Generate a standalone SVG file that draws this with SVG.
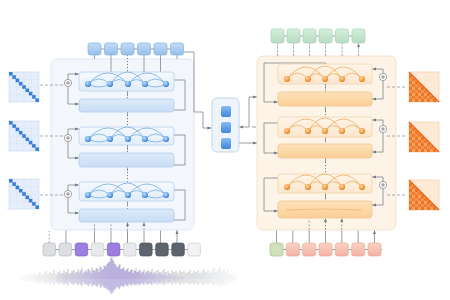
<svg xmlns="http://www.w3.org/2000/svg" width="450" height="300" viewBox="0 0 450 300">
<defs>
<style>
.c{fill:none;stroke:#7f858d;stroke-width:0.8}
.d{fill:none;stroke:#8a9099;stroke-width:0.8;stroke-dasharray:2 1.6}
.dot{fill:none;stroke:#6a7078;stroke-width:0.9;stroke-dasharray:1.2 1.8}
.md{fill:none;stroke:#9ba1a9;stroke-width:0.9;stroke-dasharray:3 2}
.ea{fill:url(#gEA);stroke:#b9d1ec;stroke-width:0.8}
.ef{fill:url(#gEF);stroke:#b2cdec;stroke-width:0.8}
.da{fill:url(#gDA);stroke:#f1d3ad;stroke-width:0.8}
.df{fill:url(#gDF);stroke:#efc896;stroke-width:0.8}
.earc{fill:none;stroke:#6fa8e2;stroke-width:0.75}
.darc{fill:none;stroke:#eea85a;stroke-width:0.75}
.bt{fill:url(#gBT);stroke:#83b1df;stroke-width:0.7}
.gt{fill:url(#gG);stroke:#a6d2b4;stroke-width:0.7}
.st{fill:url(#gS);stroke:#eba895;stroke-width:0.7}
.en{fill:url(#gN)}
.on{fill:url(#gO)}
</style>
<linearGradient id="gEA" x1="0" y1="0" x2="0" y2="1"><stop offset="0" stop-color="#f4f9fe"/><stop offset="1" stop-color="#e2edfa"/></linearGradient>
<linearGradient id="gEF" x1="0" y1="0" x2="0" y2="1"><stop offset="0" stop-color="#dcebfa"/><stop offset="1" stop-color="#c8ddf5"/></linearGradient>
<linearGradient id="gDA" x1="0" y1="0" x2="0" y2="1"><stop offset="0" stop-color="#fff6ea"/><stop offset="1" stop-color="#fce6cc"/></linearGradient>
<linearGradient id="gDF" x1="0" y1="0" x2="0" y2="1"><stop offset="0" stop-color="#fee2b9"/><stop offset="1" stop-color="#f9cf96"/></linearGradient>
<linearGradient id="gBT" x1="0" y1="0" x2="0" y2="1"><stop offset="0" stop-color="#c2dcf6"/><stop offset="1" stop-color="#96bfeb"/></linearGradient>
<linearGradient id="gBS" x1="0" y1="0" x2="0" y2="1"><stop offset="0" stop-color="#86bdf5"/><stop offset="1" stop-color="#3f86e0"/></linearGradient>
<linearGradient id="gG" x1="0" y1="0" x2="0" y2="1"><stop offset="0" stop-color="#d6efdd"/><stop offset="1" stop-color="#b5dcc1"/></linearGradient>
<linearGradient id="gS" x1="0" y1="0" x2="0" y2="1"><stop offset="0" stop-color="#fcd3c7"/><stop offset="1" stop-color="#f4b2a1"/></linearGradient>
<radialGradient id="gN" cx="0.38" cy="0.35" r="0.7"><stop offset="0" stop-color="#bfdcfa"/><stop offset="1" stop-color="#2f7fd8"/></radialGradient>
<radialGradient id="gO" cx="0.38" cy="0.35" r="0.7"><stop offset="0" stop-color="#ffd49a"/><stop offset="1" stop-color="#ea7f1c"/></radialGradient>
<linearGradient id="gW" x1="0" y1="0" x2="1" y2="0"><stop offset="0" stop-color="#9aa0a8" stop-opacity="0.1"/><stop offset="0.2" stop-color="#858b94" stop-opacity="0.8"/><stop offset="0.8" stop-color="#858b94" stop-opacity="0.8"/><stop offset="1" stop-color="#9aa0a8" stop-opacity="0.2"/></linearGradient>
<linearGradient id="gP" x1="0" y1="0" x2="1" y2="0"><stop offset="0" stop-color="#8a6bd8" stop-opacity="0.2"/><stop offset="0.4" stop-color="#7352d4" stop-opacity="0.95"/><stop offset="0.6" stop-color="#7352d4" stop-opacity="0.95"/><stop offset="1" stop-color="#8a6bd8" stop-opacity="0.2"/></linearGradient>
<pattern id="pOr" patternUnits="userSpaceOnUse" width="6" height="6"><rect width="3" height="3" fill="#f4934a"/><rect x="3" width="3" height="3" fill="#f07c30"/><rect y="3" width="3" height="3" fill="#ee7428"/><rect x="3" y="3" width="3" height="3" fill="#f6a45e"/></pattern>
<marker id="ah" viewBox="0 0 6 6" refX="5.5" refY="3" markerUnits="userSpaceOnUse" markerWidth="4" markerHeight="4" orient="auto"><path d="M0,0.6 L6,3 L0,5.4z" fill="#767c84"/></marker>
<g id="plus"><circle r="3.6" fill="#fff" stroke="#7a7f86" stroke-width="0.7"/><path d="M-2 0H2M0 -2V2" stroke="#666" stroke-width="0.7"/></g>
<g id="mL"><rect width="30" height="30" fill="#e5eefa" stroke="#cadcf0" stroke-width="0.7"/><path d="M7.5 0V30M15 0V30M22.5 0V30M0 7.5H30M0 15H30M0 22.5H30" stroke="#d6e4f5" stroke-width="0.5"/><g fill="#3b7ed8"><rect x="0" y="0" width="3.6" height="3.6"/><rect x="3.3" y="3.3" width="3.6" height="3.6"/><rect x="6.6" y="6.6" width="3.6" height="3.6"/><rect x="9.9" y="9.9" width="3.6" height="3.6"/><rect x="13.2" y="13.2" width="3.6" height="3.6"/><rect x="16.5" y="16.5" width="3.6" height="3.6"/><rect x="19.8" y="19.8" width="3.6" height="3.6"/><rect x="23.1" y="23.1" width="3.6" height="3.6"/><rect x="26.4" y="26.4" width="3.6" height="3.6"/></g></g>
<g id="mR"><rect width="30" height="30" fill="#fdead6" stroke="#f3cda6" stroke-width="0.7"/><polygon points="0,0 0,30 30,30" fill="url(#pOr)"/><path d="M0 0L30 30" stroke="#e8621a" stroke-width="1.2"/></g>
<path id="wv" d="M20 0v-2M22 0v-3M24 0v-2M26 0v-4M28 0v-3M30 0v-5M32 0v-3M34 0v-6M36 0v-4M38 0v-5M40 0v-7M42 0v-4M44 0v-6M46 0v-8M48 0v-5M50 0v-7M52 0v-6M54 0v-9M56 0v-5M58 0v-7M60 0v-8M62 0v-6M64 0v-9M66 0v-7M68 0v-10M70 0v-6M72 0v-8M74 0v-9M76 0v-7M78 0v-10M80 0v-8M82 0v-11M84 0v-7M86 0v-9M88 0v-10M90 0v-8M92 0v-12M94 0v-9M96 0v-11M98 0v-10M100 0v-13M102 0v-9M104 0v-14M106 0v-12M108 0v-16M110 0v-18M112 0v-22M114 0v-17M116 0v-14M118 0v-12M120 0v-15M122 0v-10M124 0v-12M126 0v-9M128 0v-11M130 0v-8M132 0v-10M134 0v-9M136 0v-11M138 0v-7M140 0v-9M142 0v-8M144 0v-10M146 0v-7M148 0v-9M150 0v-8M152 0v-10M154 0v-7M156 0v-8M158 0v-9M160 0v-7M162 0v-8M164 0v-10M166 0v-7M168 0v-8M170 0v-6M172 0v-9M174 0v-7M176 0v-8M178 0v-6M180 0v-9M182 0v-7M184 0v-8M186 0v-6M188 0v-7M190 0v-9M192 0v-6M194 0v-8M196 0v-7M198 0v-9M200 0v-6M202 0v-8M204 0v-10M206 0v-7M208 0v-9M210 0v-6M212 0v-8M214 0v-11M216 0v-7M218 0v-9M220 0v-12M222 0v-8M224 0v-10M226 0v-7M228 0v-9M230 0v-5M232 0v-6M234 0v-3M236 0v-4"/>
<path id="wp" d="M57 0v-3M59 0v-5M61 0v-4M63 0v-6M65 0v-5M67 0v-7M69 0v-4M71 0v-6M73 0v-8M75 0v-5M77 0v-7M79 0v-6M81 0v-9M83 0v-5M85 0v-8M87 0v-7M89 0v-10M91 0v-6M93 0v-9M95 0v-8M97 0v-11M99 0v-7M101 0v-12M103 0v-10M105 0v-13M107 0v-15M109 0v-17M111 0v-21M113 0v-19M115 0v-15M117 0v-12M119 0v-14M121 0v-10M123 0v-11M125 0v-8M127 0v-10M129 0v-7M131 0v-9M133 0v-6M135 0v-8M137 0v-7M139 0v-9M141 0v-6M143 0v-7M145 0v-5M147 0v-8M149 0v-6M151 0v-7M153 0v-5M155 0v-6M157 0v-4M159 0v-6M161 0v-5M163 0v-4M165 0v-6M167 0v-3M169 0v-5M171 0v-4M173 0v-3M175 0v-4M177 0v-3M179 0v-2M181 0v-3M183 0v-2"/>
</defs>
<rect width="450" height="300" fill="#ffffff"/>

<g id="encoder-panel"><rect x="51" y="59" width="143" height="171" rx="6" fill="#f3f7fc" stroke="#dde7f3" stroke-width="0.9"/></g>
<g id="decoder-panel"><rect x="257" y="56" width="139" height="174" rx="6" fill="#fdf3e7" stroke="#f5e0c6" stroke-width="0.9"/></g>

<g id="connectors">
<path class="c" d="M94.5 55V59M177 55V59M111 55V72M144 55V72M160.5 55V72"/>
<path class="c" marker-end="url(#ah)" d="M184 52H194V112H203V128H211"/>
<path class="dot" d="M127.5 55V243"/>
<path class="c" marker-end="url(#ah)" d="M68 79.4V74H78.6"/><path class="c" marker-end="url(#ah)" d="M68 86.6V104H78.6"/>
<path class="c" d="M174 80H185V110H174"/>
<path class="c" marker-end="url(#ah)" d="M68 134.4V129H78.6"/><path class="c" marker-end="url(#ah)" d="M68 141.6V158H78.6"/>
<path class="c" d="M174 135H185V165H174"/>
<path class="c" marker-end="url(#ah)" d="M68 190.4V185H78.6"/><path class="c" marker-end="url(#ah)" d="M68 197.6V213H78.6"/>
<path class="c" d="M174 190H185V220H174"/>
<path class="md" d="M40 85H64M40 136H64M40 195H64"/>
<path class="c" marker-end="url(#ah)" d="M127.5 96V91.5M127.5 116V112.5M127.5 150V145.5M127.5 171V167.5M127.5 206V201.5M127.5 227V222.5"/>
<path class="d" d="M49.2 243V231"/>
<path class="c" marker-end="url(#ah)" d="M66 243V230.5M94.5 243V230.5M111 243V230.5M127.5 243V230.5M144 243V230.5M160.5 243V230.5M177 243V230.5"/>
<path class="d" marker-end="url(#ah)" d="M94.5 230V222.5M111 230V222.5M144 230V222.5"/>
<path class="c" d="M43 249.5H200"/>
<path class="c" d="M88 49H183"/>
<path class="c" d="M226 117V122M226 133V138"/>
<path class="c" marker-end="url(#ah)" d="M249 127H239.6"/>
<path class="c" marker-end="url(#ah)" d="M249 127V97H256.6"/>
<path class="c" d="M252 127H256"/>
<path class="c" marker-end="url(#ah)" d="M239 143H256.6"/>
<path class="d" marker-end="url(#ah)" d="M277.5 56V43.5M293.5 56V43.5M309.5 56V43.5M325.5 56V43.5M342 56V43.5M358.5 56V43.5"/>
<path class="c" d="M271 36H365"/>
<path class="dot" d="M325.5 63V230"/>
<path class="c" marker-end="url(#ah)" d="M325.5 89V84.5M325.5 111V106.5M325.5 142V137.5M325.5 162V158.5M325.5 198V193.5M325.5 223V218.5"/>
<path class="c" d="M325.5 66V63H264V102"/><path class="c" marker-end="url(#ah)" d="M264 102H277.6"/>
<path class="c" marker-end="url(#ah)" d="M278 123H264V153H277.6"/>
<path class="c" marker-end="url(#ah)" d="M278 178H264V211H277.6"/>
<path class="c" marker-end="url(#ah)" d="M383 73.4V69H372.4"/><path class="c" marker-end="url(#ah)" d="M383 80.6V99H372.4"/>
<path class="c" marker-end="url(#ah)" d="M383 125.4V120H372.4"/><path class="c" marker-end="url(#ah)" d="M383 132.6V152H372.4"/>
<path class="c" marker-end="url(#ah)" d="M383 181.4V177H372.4"/><path class="c" marker-end="url(#ah)" d="M383 188.6V205H372.4"/>
<path class="md" d="M387 87H407M387 136H407M387 195H407"/>
<path class="c" marker-end="url(#ah)" d="M276.5 243V230.5M292.8 243V230.5M309.2 243V230.5M325.5 243V230.5M341.8 243V230.5M358.2 243V230.5M374.5 243V230.5"/>
<path class="d" marker-end="url(#ah)" d="M309.2 230V218.5M341.8 230V218.5"/>
<path class="c" d="M270 249.5H382"/>
</g>

<g id="enc-layer1">
<rect class="ea" x="79" y="72" width="95" height="19" rx="3"/>
<path class="earc" d="M88 84Q108 62 128 84M128 84Q147 62 166 84M110 84Q127.5 60 145 84M88 84Q99 74 110 84M110 84Q119 75 128 84M128 84Q136.5 75 145 84M145 84Q155.5 74 166 84M88 84Q99 90 110 84M145 84Q155.5 90 166 84"/>
<circle class="en" cx="88" cy="84" r="3.1"/><circle class="en" cx="110" cy="84" r="3.1"/><circle class="en" cx="128" cy="84" r="3.1"/><circle class="en" cx="145" cy="84" r="3.1"/><circle class="en" cx="166" cy="84" r="3.1"/>
<rect class="ef" x="79" y="99" width="95" height="13" rx="3"/>
<use href="#plus" x="68" y="83"/>
</g>
<g id="enc-layer2">
<rect class="ea" x="79" y="127" width="95" height="18" rx="3"/>
<path class="earc" d="M88 139Q108 117 128 139M128 139Q147 117 166 139M110 139Q127.5 115 145 139M88 139Q99 129 110 139M110 139Q119 130 128 139M128 139Q136.5 130 145 139M145 139Q155.5 129 166 139M88 139Q99 145 110 139M145 139Q155.5 145 166 139"/>
<circle class="en" cx="88" cy="139" r="3.1"/><circle class="en" cx="110" cy="139" r="3.1"/><circle class="en" cx="128" cy="139" r="3.1"/><circle class="en" cx="145" cy="139" r="3.1"/><circle class="en" cx="166" cy="139" r="3.1"/>
<rect class="ef" x="79" y="153" width="95" height="14" rx="3"/>
<use href="#plus" x="68" y="138"/>
</g>
<g id="enc-layer3">
<rect class="ea" x="79" y="182" width="95" height="19" rx="3"/>
<path class="earc" d="M88 195Q108 173 128 195M128 195Q147 173 166 195M110 195Q127.5 171 145 195M88 195Q99 185 110 195M110 195Q119 186 128 195M128 195Q136.5 186 145 195M145 195Q155.5 185 166 195M88 195Q99 201 110 195M145 195Q155.5 201 166 195"/>
<circle class="en" cx="88" cy="195" r="3.1"/><circle class="en" cx="110" cy="195" r="3.1"/><circle class="en" cx="128" cy="195" r="3.1"/><circle class="en" cx="145" cy="195" r="3.1"/><circle class="en" cx="166" cy="195" r="3.1"/>
<rect class="ef" x="79" y="209" width="95" height="13" rx="3"/>
<use href="#plus" x="68" y="194"/>
</g>

<g id="enc-output-tokens">
<rect class="bt" x="88" y="43" width="13" height="12" rx="2.5"/><rect class="bt" x="104.5" y="43" width="13" height="12" rx="2.5"/><rect class="bt" x="121" y="43" width="13" height="12" rx="2.5"/><rect class="bt" x="137.5" y="43" width="13" height="12" rx="2.5"/><rect class="bt" x="154" y="43" width="13" height="12" rx="2.5"/><rect class="bt" x="170.5" y="43" width="13" height="12" rx="2.5"/>
</g>

<g id="audio-tokens" stroke-width="0.7">
<rect x="43" y="243" width="12.5" height="13" rx="2.5" fill="#dcdee2" stroke="#b9bcc2"/>
<rect x="59.1" y="243" width="12.5" height="13" rx="2.5" fill="#dcdee2" stroke="#b9bcc2"/>
<rect x="75.2" y="243" width="12.5" height="13" rx="2.5" fill="#9a7ee0" stroke="#7d62c8"/>
<rect x="91.3" y="243" width="12.5" height="13" rx="2.5" fill="#e7e9ec" stroke="#c4c7cc"/>
<rect x="107.4" y="243" width="12.5" height="13" rx="2.5" fill="#9a7ee0" stroke="#7d62c8"/>
<rect x="123.5" y="243" width="12.5" height="13" rx="2.5" fill="#e8eaed" stroke="#c4c7cc"/>
<rect x="139.6" y="243" width="12.5" height="13" rx="2.5" fill="#5d6470" stroke="#4a505a"/>
<rect x="155.7" y="243" width="12.5" height="13" rx="2.5" fill="#5d6470" stroke="#4a505a"/>
<rect x="171.8" y="243" width="12.5" height="13" rx="2.5" fill="#5d6470" stroke="#4a505a"/>
<rect x="187.9" y="243" width="12.5" height="13" rx="2.5" fill="#f2f3f5" stroke="#c9ccd1"/>
</g>

<g id="waveform" fill="none">
<use href="#wv" transform="translate(0,279)" stroke="url(#gW)" stroke-width="0.7"/>
<use href="#wv" transform="translate(0,279) scale(1,-0.65)" stroke="url(#gW)" stroke-width="0.7"/>
<use href="#wp" transform="translate(0,279)" stroke="url(#gP)" stroke-width="0.7"/>
<use href="#wp" transform="translate(0,279) scale(1,-0.7)" stroke="url(#gP)" stroke-width="0.7"/>
</g>

<g id="attn-matrices-left">
<use href="#mL" x="9" y="72"/><use href="#mL" x="9" y="121"/><use href="#mL" x="9" y="179"/>
</g>

<g id="bridge">
<rect x="212" y="98" width="27" height="54" rx="5" fill="#eef4fb" stroke="#b9cce2" stroke-width="0.8"/>
<rect x="221" y="106" width="10" height="11" rx="2" fill="url(#gBS)"/>
<rect x="221" y="122" width="10" height="11" rx="2" fill="url(#gBS)"/>
<rect x="221" y="138" width="10" height="11" rx="2" fill="url(#gBS)"/>
</g>

<g id="dec-layer1">
<rect class="da" x="278" y="64" width="94" height="20" rx="3"/>
<path class="darc" d="M287 79Q306 55 325 79M325 79Q343.5 55 362 79M308 79Q325 53 342 79M287 79Q297.5 67 308 79M308 79Q316.5 68 325 79M325 79Q333.5 68 342 79M342 79Q352 67 362 79"/>
<circle class="on" cx="287" cy="79" r="3.1"/><circle class="on" cx="308" cy="79" r="3.1"/><circle class="on" cx="325" cy="79" r="3.1"/><circle class="on" cx="342" cy="79" r="3.1"/><circle class="on" cx="362" cy="79" r="3.1"/>
<rect class="df" x="278" y="92" width="94" height="14" rx="3"/>
<use href="#plus" x="383" y="77"/>
</g>
<g id="dec-layer2">
<rect class="da" x="278" y="117" width="94" height="20" rx="3"/>
<path class="darc" d="M287 131Q306 107 325 131M325 131Q343.5 107 362 131M308 131Q325 105 342 131M287 131Q297.5 119 308 131M308 131Q316.5 120 325 131M325 131Q333.5 120 342 131M342 131Q352 119 362 131"/>
<circle class="on" cx="287" cy="131" r="3.1"/><circle class="on" cx="308" cy="131" r="3.1"/><circle class="on" cx="325" cy="131" r="3.1"/><circle class="on" cx="342" cy="131" r="3.1"/><circle class="on" cx="362" cy="131" r="3.1"/>
<rect class="df" x="278" y="144" width="94" height="14" rx="3"/>
<use href="#plus" x="383" y="129"/>
</g>
<g id="dec-layer3">
<rect class="da" x="278" y="174" width="94" height="19" rx="3"/>
<path class="darc" d="M287 187Q306 163 325 187M325 187Q343.5 163 362 187M308 187Q325 161 342 187M287 187Q297.5 175 308 187M308 187Q316.5 176 325 187M325 187Q333.5 176 342 187M342 187Q352 175 362 187"/>
<circle class="on" cx="287" cy="187" r="3.1"/><circle class="on" cx="308" cy="187" r="3.1"/><circle class="on" cx="325" cy="187" r="3.1"/><circle class="on" cx="342" cy="187" r="3.1"/><circle class="on" cx="362" cy="187" r="3.1"/>
<rect class="df" x="278" y="201" width="94" height="17" rx="3"/>
<path d="M286 210Q325 208 362 210" fill="none" stroke="#eeaa5c" stroke-width="0.6"/>
<use href="#plus" x="383" y="185"/>
</g>

<g id="dec-output-tokens">
<rect class="gt" x="271" y="29" width="13" height="14" rx="2.5"/><rect class="gt" x="287" y="29" width="13" height="14" rx="2.5"/><rect class="gt" x="303" y="29" width="13" height="14" rx="2.5"/><rect class="gt" x="319" y="29" width="13" height="14" rx="2.5"/><rect class="gt" x="335.5" y="29" width="13" height="14" rx="2.5"/><rect class="gt" x="352" y="29" width="13" height="14" rx="2.5"/>
</g>

<g id="dec-input-tokens">
<rect x="270" y="243" width="13" height="13" rx="2.5" fill="#cfe0bb" stroke="#a9c390" stroke-width="0.7"/>
<rect class="st" x="286.3" y="243" width="13" height="13" rx="2.5"/><rect class="st" x="302.7" y="243" width="13" height="13" rx="2.5"/><rect class="st" x="319" y="243" width="13" height="13" rx="2.5"/><rect class="st" x="335.3" y="243" width="13" height="13" rx="2.5"/><rect class="st" x="351.7" y="243" width="13" height="13" rx="2.5"/><rect class="st" x="368" y="243" width="13" height="13" rx="2.5"/>
</g>

<g id="attn-matrices-right">
<use href="#mR" x="409" y="72"/><use href="#mR" x="409" y="122"/><use href="#mR" x="409" y="180"/>
</g>
</svg>
